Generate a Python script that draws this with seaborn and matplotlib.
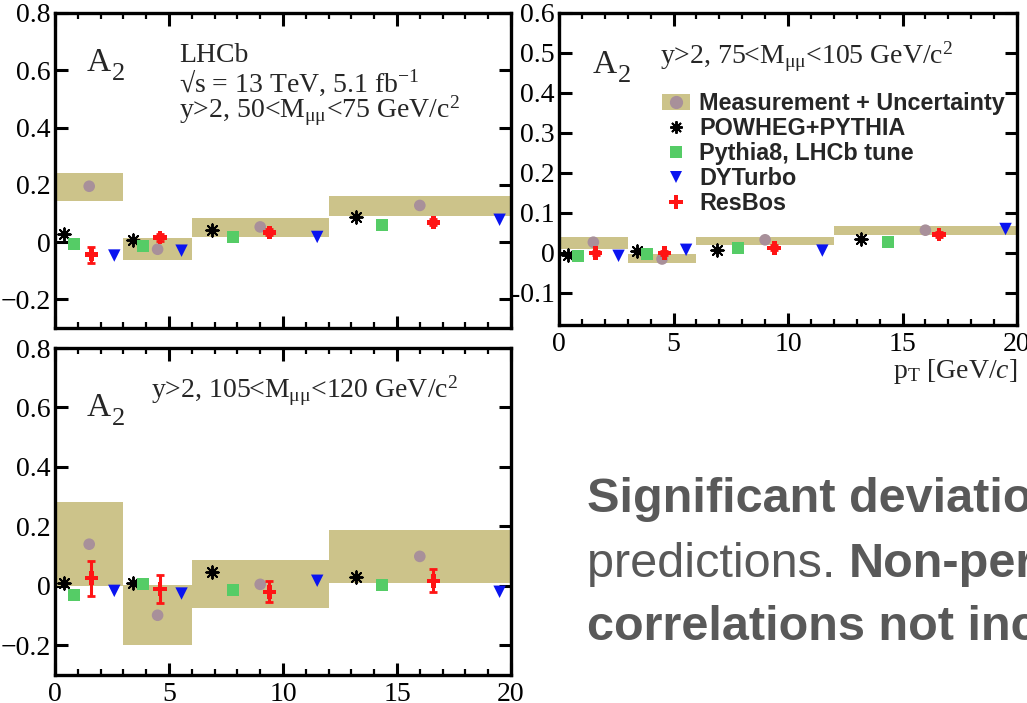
import numpy as np
import pandas as pd
import matplotlib
matplotlib.use("Agg")
import matplotlib.pyplot as plt
import seaborn as sns
from matplotlib.patches import Patch
from matplotlib.lines import Line2D
from matplotlib.legend_handler import HandlerTuple
from matplotlib.ticker import MultipleLocator, FixedLocator, FixedFormatter

# ---------------- data ----------------
bin_lo = [0, 3, 6, 12]
bin_hi = [3, 6, 12, 20]
x_meas = [1.5, 4.5, 9.0, 16.0]
x_powheg = [0.4, 3.4, 6.9, 13.2]
x_pythia = [0.85, 3.85, 7.8, 14.35]
x_resbos = [1.6, 4.6, 9.4, 16.6]
x_dyturbo = [2.6, 5.55, 11.5, 19.5]

# 50 < M < 75
m1_meas = [0.195, -0.025, 0.053, 0.128]
m1_lo = [0.145, -0.063, 0.017, 0.090]
m1_hi = [0.240, 0.013, 0.083, 0.160]
m1_powheg = [0.029, 0.006, 0.041, 0.087]
m1_pythia = [-0.006, -0.012, 0.019, 0.058]
m1_resbos = [-0.044, 0.016, 0.034, 0.069]
m1_resbos_err = [0.028, 0.012, 0.010, 0.010]
m1_dyturbo = [-0.047, -0.030, 0.018, 0.078]

# 75 < M < 105
m2_meas = [0.027, -0.015, 0.033, 0.057]
m2_lo = [0.010, -0.026, 0.021, 0.045]
m2_hi = [0.039, -0.0025, 0.041, 0.067]
m2_powheg = [-0.004, 0.006, 0.007, 0.035]
m2_pythia = [-0.007, -0.002, 0.012, 0.027]
m2_resbos = [0.000, 0.000, 0.013, 0.046]
m2_resbos_err = [0.006, 0.006, 0.006, 0.006]
m2_dyturbo = [-0.007, 0.008, 0.006, 0.060]

# 105 < M < 120
m3_meas = [0.140, -0.099, 0.005, 0.099]
m3_lo = [0.000, -0.200, -0.076, 0.008]
m3_hi = [0.281, 0.002, 0.087, 0.189]
m3_powheg = [0.009, 0.008, 0.047, 0.030]
m3_pythia = [-0.031, 0.006, -0.015, 0.004]
m3_resbos = [0.026, -0.011, -0.020, 0.017]
m3_resbos_err = [0.059, 0.046, 0.036, 0.039]
m3_dyturbo = [-0.017, -0.026, 0.017, -0.020]

legend_labels = ["Measurement + Uncertainty", "POWHEG+PYTHIA",
                 "Pythia8, LHCb tune", "DYTurbo", "ResBos"]

# ---------------- style ----------------
sns.set_theme(style="white")
plt.rcParams['font.family'] = ['Liberation Serif', 'DejaVu Serif']
plt.rcParams['mathtext.fontset'] = 'custom'
plt.rcParams['mathtext.rm'] = 'Liberation Serif'
plt.rcParams['mathtext.it'] = 'Liberation Serif:italic'
plt.rcParams['mathtext.bf'] = 'Liberation Serif:bold'

band_color = '#CCC38A'
circ_color = '#A8909A'
green = '#55CC66'
blue = '#0A14F0'
red = '#FF1414'
star_marker = (8, 2, 0)

W, H = 1027, 703
fig = plt.figure(figsize=(W / 100, H / 100), dpi=100)
fig.patch.set_facecolor('white')
renderer = fig.canvas.get_renderer()


def px_axes(left, top, right, bottom):
    return fig.add_axes([left / W, 1 - bottom / H, (right - left) / W, (bottom - top) / H])


def draw_panel(ax, meas, lo, hi, powheg, pythia, resbos, rerr, dyturbo, ylim, yticks, ylabels):
    lo = np.asarray(lo); hi = np.asarray(hi)
    ax.bar(bin_lo, hi - lo, bottom=lo, width=np.asarray(bin_hi) - np.asarray(bin_lo),
           align='edge', color=band_color, linewidth=0, zorder=1)
    sns.scatterplot(x=x_meas, y=meas, ax=ax, marker='o', s=70, color=circ_color,
                    edgecolor='none', zorder=3, legend=False)
    sns.scatterplot(x=x_powheg, y=powheg, ax=ax, marker=star_marker, s=80, color='black',
                    linewidth=1.4, zorder=4, legend=False)
    sns.scatterplot(x=x_pythia, y=pythia, ax=ax, marker='s', s=75, color=green,
                    edgecolor='none', zorder=4, legend=False)
    sns.scatterplot(x=x_dyturbo, y=dyturbo, ax=ax, marker='v', s=80, color=blue,
                    edgecolor='none', zorder=4, legend=False)
    ax.errorbar(x_resbos, resbos, yerr=rerr, fmt='none', ecolor=red, elinewidth=2.2,
                capsize=3, capthick=2, zorder=4)
    sns.scatterplot(x=x_resbos, y=resbos, ax=ax, marker='P', s=95, color=red,
                    edgecolor='none', zorder=5, legend=False)
    ax.set_xlim(0, 20)
    ax.set_ylim(*ylim)
    ax.xaxis.set_major_locator(FixedLocator([0, 5, 10, 15, 20]))
    ax.xaxis.set_major_formatter(FixedFormatter(['0', '5', '10', '15', '20']))
    ax.xaxis.set_minor_locator(MultipleLocator(1))
    ax.yaxis.set_major_locator(FixedLocator(yticks))
    ax.yaxis.set_major_formatter(FixedFormatter(ylabels))
    ax.tick_params(which='both', direction='in', top=True, right=True, bottom=True, left=True,
                   colors='black', labelsize=20)
    ax.tick_params(which='major', length=9, width=2.2)
    ax.tick_params(which='minor', length=4, width=1.6)
    ax.tick_params(axis='y', pad=3)
    ax.tick_params(axis='x', pad=5)
    for sp in ax.spines.values():
        sp.set_linewidth(2.4)
        sp.set_color('black')
        sp.set_visible(True)
    ax.set_xlabel('')
    ax.set_ylabel('')
    ax.grid(False)
    ax.set_facecolor('white')


def a2_label(xpx, base_px, sub_drop=9):
    t = fig.text(xpx / W, 1 - base_px / H, 'A', fontsize=24, va='baseline', ha='left')
    bb = t.get_window_extent(renderer=renderer)
    fig.text((bb.x1 + 1) / W, 1 - (base_px + sub_drop) / H, '2', fontsize=19,
             va='baseline', ha='left')


def note(xpx, base_px, s, size=20):
    fig.text(xpx / W, 1 - base_px / H, s, fontsize=size, va='baseline', ha='left')


# Panel 1
ax1 = px_axes(55, 13, 511, 328)
draw_panel(ax1, m1_meas, m1_lo, m1_hi, m1_powheg, m1_pythia, m1_resbos, m1_resbos_err, m1_dyturbo,
           (-0.3, 0.8), [-0.2, 0, 0.2, 0.4, 0.6, 0.8],
           ['\u22120.2', '0', '0.2', '0.4', '0.6', '0.8'])
ax1.tick_params(axis='x', labelbottom=False)
a2_label(87, 71)
note(179, 62, 'LHCb')
note(179, 92, '\u221as = 13 TeV, 5.1 fb$^{\\mathrm{-1}}$')
note(179, 118, r'y>2, 50<M$_{\mathrm{\mu\mu}}$<75 GeV/c$^2$')

# Panel 2
ax2 = px_axes(559, 13, 1017, 325)
draw_panel(ax2, m2_meas, m2_lo, m2_hi, m2_powheg, m2_pythia, m2_resbos, m2_resbos_err, m2_dyturbo,
           (-0.18, 0.6), [-0.1, 0, 0.1, 0.2, 0.3, 0.4, 0.5, 0.6],
           ['-0.1', '0', '0.1', '0.2', '0.3', '0.4', '0.5', '0.6'])
a2_label(593, 73)
note(660, 64, r'y>2, 75<M$_{\mathrm{\mu\mu}}$<105 GeV/c$^2$')
ax2.text(1.0, -0.17, r'p$_{\mathrm{T}}$ [GeV/$c$]', transform=ax2.transAxes,
         fontsize=20, va='baseline', ha='right')

handles = [
    (Patch(facecolor=band_color, edgecolor='none'),
     Line2D([], [], marker='o', color=circ_color, linestyle='none', markersize=8.5)),
    Line2D([], [], marker=star_marker, color='black', linestyle='none', markersize=9, markeredgewidth=1.4),
    Line2D([], [], marker='s', color=green, linestyle='none', markersize=8.5, markeredgewidth=0),
    Line2D([], [], marker='v', color=blue, linestyle='none', markersize=9, markeredgewidth=0),
    Line2D([], [], marker='P', color=red, linestyle='none', markersize=10, markeredgewidth=0),
]
leg = ax2.legend(handles, legend_labels, handler_map={tuple: HandlerTuple(ndivide=1)},
                 loc='upper left', bbox_to_anchor=(0.225, 0.747), frameon=False,
                 borderpad=0, borderaxespad=0, handlelength=1.2, handleheight=0.65,
                 handletextpad=0.4, labelspacing=0.09,
                 prop={'family': 'Liberation Sans', 'weight': 'bold', 'size': 16.8})

# Panel 3
ax3 = px_axes(55, 348, 511, 675)
draw_panel(ax3, m3_meas, m3_lo, m3_hi, m3_powheg, m3_pythia, m3_resbos, m3_resbos_err, m3_dyturbo,
           (-0.3, 0.8), [-0.2, 0, 0.2, 0.4, 0.6, 0.8],
           ['\u22120.2', '0', '0.2', '0.4', '0.6', '0.8'])
a2_label(87, 416)
note(151, 398, r'y>2, 105<M$_{\mathrm{\mu\mu}}$<120 GeV/c$^2$')

# Slide text (clipped at the right edge, as in the slide)
gray = '#595959'
tfam = 'Liberation Sans'
fig.text(587 / W, 1 - 512 / H, 'Significant deviatio', fontsize=35, fontweight='bold',
         color=gray, family=tfam, va='baseline', ha='left')
t2 = fig.text(587 / W, 1 - 577 / H, 'predictions. ', fontsize=35, color=gray, family=tfam,
              va='baseline', ha='left')
bb = t2.get_window_extent(renderer=renderer)
fig.text(bb.x1 / W, 1 - 577 / H, 'Non-per', fontsize=35, fontweight='bold',
         color=gray, family=tfam, va='baseline', ha='left')
fig.text(587 / W, 1 - 640 / H, 'correlations not inc', fontsize=35, fontweight='bold',
         color=gray, family=tfam, va='baseline', ha='left')

fig.savefig('out.png', dpi=100)
